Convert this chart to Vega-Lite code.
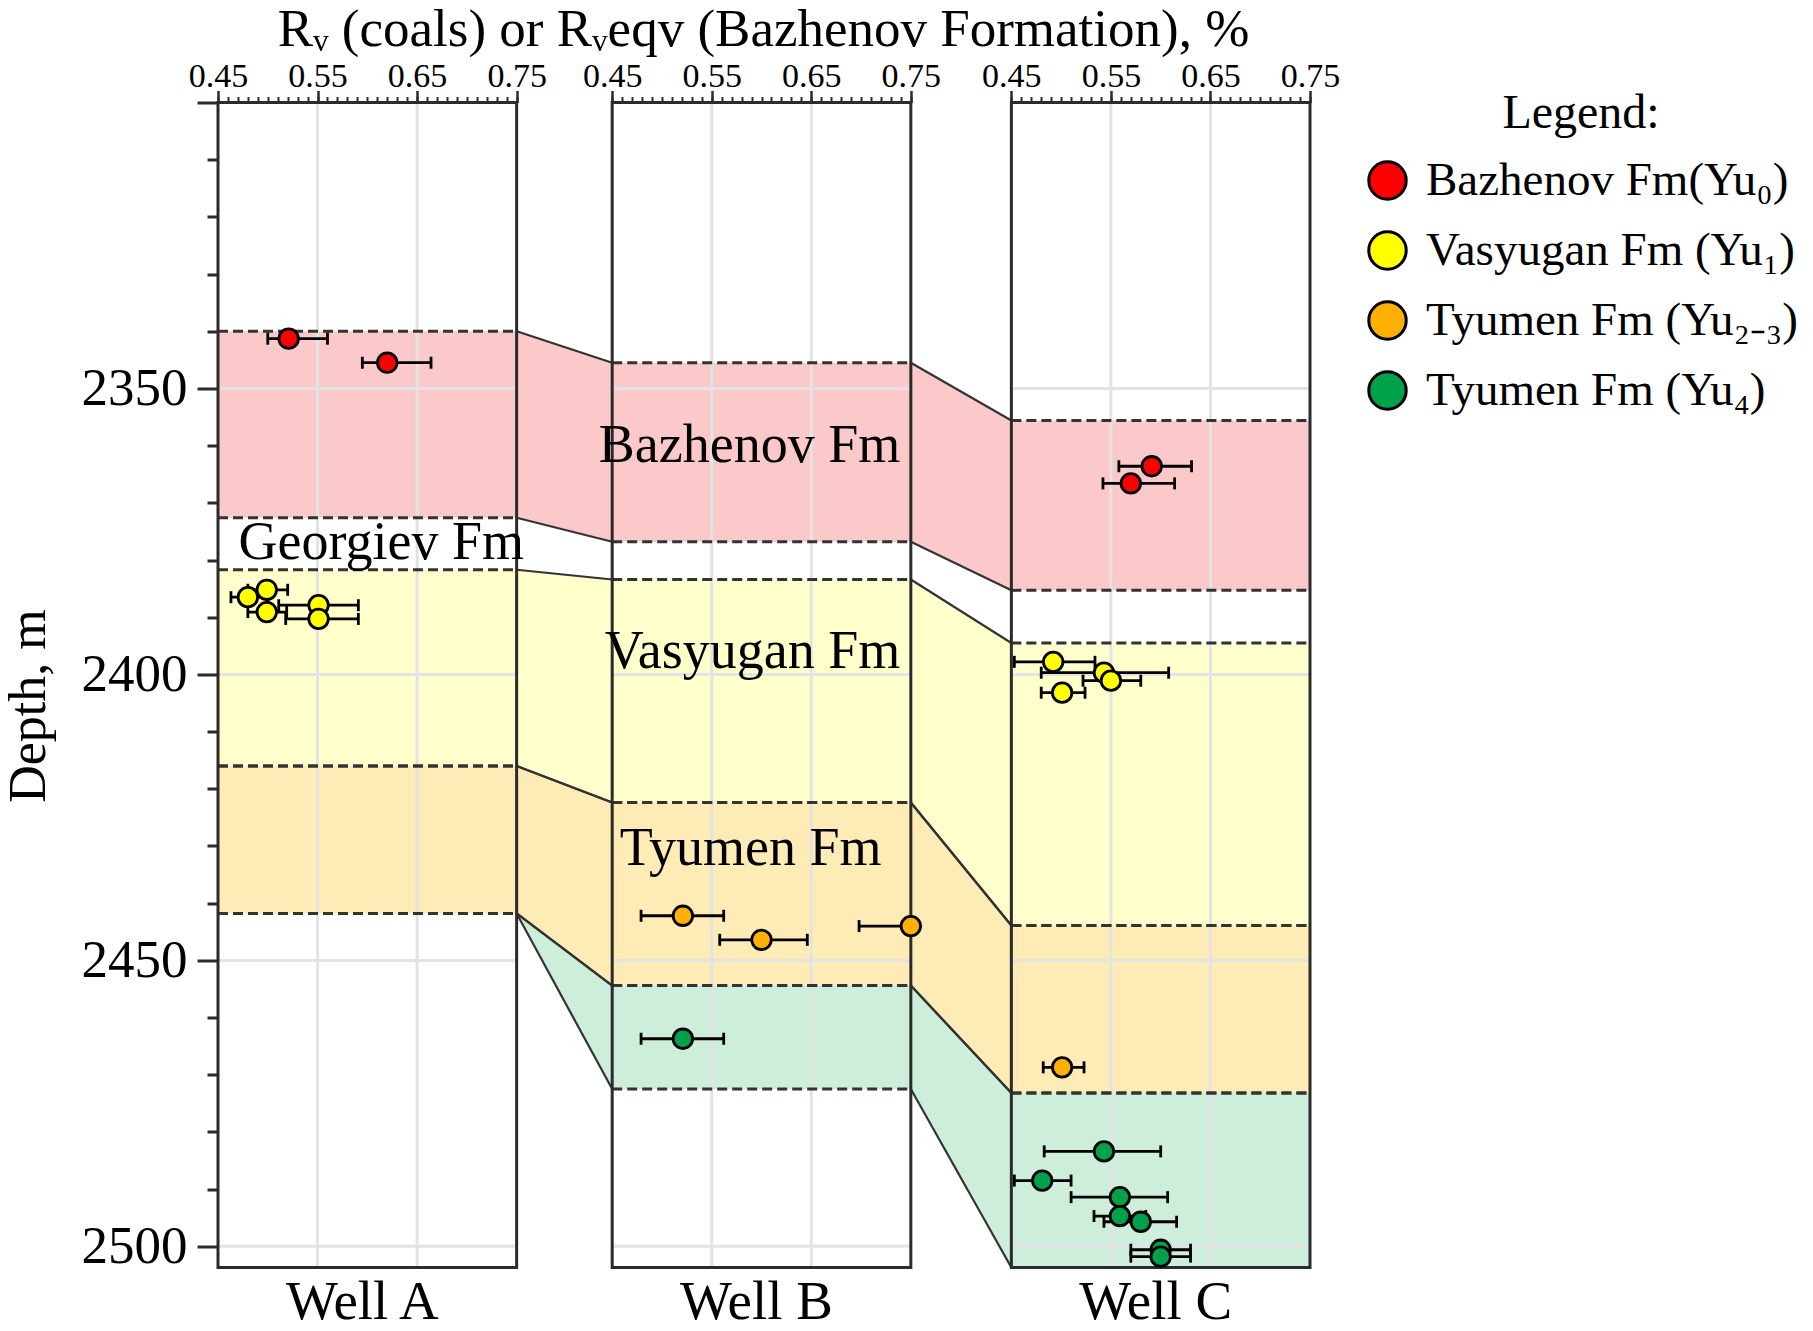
{
  "$schema": "https://vega.github.io/schema/vega-lite/v6.json",
  "width": 1092,
  "height": 1165,
  "autosize": {"type": "none"},
  "padding": {"left": 218, "top": 102.5, "right": 503, "bottom": 63.5},
  "background": "white",
  "config": {"view": {"stroke": null}, "font": "Liberation Serif"},
  "resolve": {"axis": {"x": "independent", "y": "independent"}},
  "datasets": {
    "wells": [
      {"well": "A", "name": "Well A"},
      {"well": "B", "name": "Well B"},
      {"well": "C", "name": "Well C"}
    ],
    "zones": [
      {"well": "A", "zone": "Bazhenov", "top": 2340.0, "bottom": 2372.6},
      {"well": "A", "zone": "Vasyugan", "top": 2381.7, "bottom": 2416.0},
      {"well": "A", "zone": "Tyumen 2-3", "top": 2416.0, "bottom": 2441.8},
      {"well": "B", "zone": "Bazhenov", "top": 2345.5, "bottom": 2376.8},
      {"well": "B", "zone": "Vasyugan", "top": 2383.4, "bottom": 2422.4},
      {"well": "B", "zone": "Tyumen 2-3", "top": 2422.4, "bottom": 2454.4},
      {"well": "B", "zone": "Tyumen 4", "top": 2454.4, "bottom": 2472.5},
      {"well": "C", "zone": "Bazhenov", "top": 2355.6, "bottom": 2385.3},
      {"well": "C", "zone": "Vasyugan", "top": 2394.5, "bottom": 2443.9},
      {"well": "C", "zone": "Tyumen 2-3", "top": 2443.9, "bottom": 2473.2},
      {"well": "C", "zone": "Tyumen 4", "top": 2473.2, "bottom": 2503.7}
    ],
    "links": [
      {"link": "AB-0", "zone": "Bazhenov", "well": "A", "side": "R", "top": 2340.0, "bottom": 2372.6},
      {"link": "AB-0", "zone": "Bazhenov", "well": "B", "side": "L", "top": 2345.5, "bottom": 2376.8},
      {"link": "AB-1", "zone": "Vasyugan", "well": "A", "side": "R", "top": 2381.7, "bottom": 2416.0},
      {"link": "AB-1", "zone": "Vasyugan", "well": "B", "side": "L", "top": 2383.4, "bottom": 2422.4},
      {"link": "AB-23", "zone": "Tyumen 2-3", "well": "A", "side": "R", "top": 2416.0, "bottom": 2441.8},
      {"link": "AB-23", "zone": "Tyumen 2-3", "well": "B", "side": "L", "top": 2422.4, "bottom": 2454.4},
      {"link": "AB-4", "zone": "Tyumen 4", "well": "A", "side": "R", "top": 2441.8, "bottom": 2441.8},
      {"link": "AB-4", "zone": "Tyumen 4", "well": "B", "side": "L", "top": 2454.4, "bottom": 2472.5},
      {"link": "BC-0", "zone": "Bazhenov", "well": "B", "side": "R", "top": 2345.5, "bottom": 2376.8},
      {"link": "BC-0", "zone": "Bazhenov", "well": "C", "side": "L", "top": 2355.6, "bottom": 2385.3},
      {"link": "BC-1", "zone": "Vasyugan", "well": "B", "side": "R", "top": 2383.4, "bottom": 2422.4},
      {"link": "BC-1", "zone": "Vasyugan", "well": "C", "side": "L", "top": 2394.5, "bottom": 2443.9},
      {"link": "BC-23", "zone": "Tyumen 2-3", "well": "B", "side": "R", "top": 2422.4, "bottom": 2454.4},
      {"link": "BC-23", "zone": "Tyumen 2-3", "well": "C", "side": "L", "top": 2443.9, "bottom": 2473.2},
      {"link": "BC-4", "zone": "Tyumen 4", "well": "B", "side": "R", "top": 2454.4, "bottom": 2472.5},
      {"link": "BC-4", "zone": "Tyumen 4", "well": "C", "side": "L", "top": 2473.2, "bottom": 2503.7}
    ],
    "points": [
      {"well": "A", "unit": "Bazhenov Fm(Yu₀)", "depth": 2341.3, "rv": 0.521, "lo": 0.500, "hi": 0.560},
      {"well": "A", "unit": "Bazhenov Fm(Yu₀)", "depth": 2345.5, "rv": 0.620, "lo": 0.595, "hi": 0.664},
      {"well": "A", "unit": "Vasyugan Fm (Yu₁)", "depth": 2385.2, "rv": 0.499, "lo": 0.480, "hi": 0.520},
      {"well": "A", "unit": "Vasyugan Fm (Yu₁)", "depth": 2386.5, "rv": 0.480, "lo": 0.463, "hi": 0.500},
      {"well": "A", "unit": "Vasyugan Fm (Yu₁)", "depth": 2387.9, "rv": 0.551, "lo": 0.511, "hi": 0.591},
      {"well": "A", "unit": "Vasyugan Fm (Yu₁)", "depth": 2389.1, "rv": 0.499, "lo": 0.480, "hi": 0.519},
      {"well": "A", "unit": "Vasyugan Fm (Yu₁)", "depth": 2390.3, "rv": 0.551, "lo": 0.518, "hi": 0.591},
      {"well": "B", "unit": "Tyumen Fm (Yu₂₋₃)", "depth": 2442.2, "rv": 0.521, "lo": 0.479, "hi": 0.562},
      {"well": "B", "unit": "Tyumen Fm (Yu₂₋₃)", "depth": 2446.4, "rv": 0.600, "lo": 0.558, "hi": 0.646},
      {"well": "B", "unit": "Tyumen Fm (Yu₂₋₃)", "depth": 2444.0, "rv": 0.750, "lo": 0.698, "hi": 0.750},
      {"well": "B", "unit": "Tyumen Fm (Yu₄)", "depth": 2463.7, "rv": 0.521, "lo": 0.479, "hi": 0.562},
      {"well": "C", "unit": "Bazhenov Fm(Yu₀)", "depth": 2363.6, "rv": 0.591, "lo": 0.558, "hi": 0.631},
      {"well": "C", "unit": "Bazhenov Fm(Yu₀)", "depth": 2366.6, "rv": 0.570, "lo": 0.542, "hi": 0.614},
      {"well": "C", "unit": "Vasyugan Fm (Yu₁)", "depth": 2397.8, "rv": 0.492, "lo": 0.453, "hi": 0.534},
      {"well": "C", "unit": "Vasyugan Fm (Yu₁)", "depth": 2399.7, "rv": 0.543, "lo": 0.480, "hi": 0.608},
      {"well": "C", "unit": "Vasyugan Fm (Yu₁)", "depth": 2401.1, "rv": 0.550, "lo": 0.522, "hi": 0.580},
      {"well": "C", "unit": "Vasyugan Fm (Yu₁)", "depth": 2403.2, "rv": 0.501, "lo": 0.480, "hi": 0.524},
      {"well": "C", "unit": "Tyumen Fm (Yu₂₋₃)", "depth": 2468.7, "rv": 0.501, "lo": 0.482, "hi": 0.523},
      {"well": "C", "unit": "Tyumen Fm (Yu₄)", "depth": 2483.4, "rv": 0.543, "lo": 0.483, "hi": 0.600},
      {"well": "C", "unit": "Tyumen Fm (Yu₄)", "depth": 2488.5, "rv": 0.481, "lo": 0.453, "hi": 0.510},
      {"well": "C", "unit": "Tyumen Fm (Yu₄)", "depth": 2491.4, "rv": 0.559, "lo": 0.510, "hi": 0.607},
      {"well": "C", "unit": "Tyumen Fm (Yu₄)", "depth": 2494.7, "rv": 0.559, "lo": 0.533, "hi": 0.585},
      {"well": "C", "unit": "Tyumen Fm (Yu₄)", "depth": 2495.7, "rv": 0.580, "lo": 0.543, "hi": 0.616},
      {"well": "C", "unit": "Tyumen Fm (Yu₄)", "depth": 2500.6, "rv": 0.600, "lo": 0.570, "hi": 0.630},
      {"well": "C", "unit": "Tyumen Fm (Yu₄)", "depth": 2501.8, "rv": 0.600, "lo": 0.570, "hi": 0.630}
    ],
    "labels": [
      {"label": "Georgiev Fm", "well": "A", "rv": 0.614, "depth": 2379.8},
      {"label": "Bazhenov Fm", "well": "B", "rv": 0.588, "depth": 2362.9},
      {"label": "Vasyugan Fm", "well": "B", "rv": 0.591, "depth": 2398.9},
      {"label": "Tyumen Fm", "well": "B", "rv": 0.589, "depth": 2433.3}
    ]
  },
  "layer": [
    {
      "data": {"name": "zones"},
      "transform": [
        {"calculate": "0.45 + (datum.well === 'A' ? 0 : (datum.well === 'B' ? 0.396 : 0.797))", "as": "x1"},
        {"calculate": "0.75 + (datum.well === 'A' ? 0 : (datum.well === 'B' ? 0.396 : 0.797))", "as": "x2"}
      ],
      "mark": {"type": "rect"},
      "encoding": {
        "x": {
          "field": "x1", "type": "quantitative",
          "scale": {"domain": [0.45, 1.547], "nice": false, "zero": false},
          "axis": {
            "orient": "top",
            "values": [0.45, 0.55, 0.65, 0.75, 0.846, 0.946, 1.046, 1.146, 1.247, 1.347, 1.447, 1.547],
            "labelExpr": "format(datum.value - (datum.value > 1.2 ? 0.797 : (datum.value > 0.8 ? 0.396 : 0)), '.2f')",
            "tickSize": 12,
            "tickWidth": 2.5,
            "tickColor": "#2b2b2b",
            "domain": false,
            "grid": false,
            "labelFont": "Liberation Serif",
            "labelFontSize": 34,
            "labelColor": "black",
            "labelPadding": -3,
            "labelOverlap": false,
            "labelBound": false,
            "labelFlush": false,
            "title": "Rᵥ (coals) or Rᵥeqv (Bazhenov Formation), %",
            "titleFont": "Liberation Serif",
            "titleFontSize": 53,
            "titleFontWeight": "normal",
            "titleColor": "black",
            "titleX": 545,
            "titleY": -57,
            "titleAlign": "center",
            "titleBaseline": "alphabetic"
          }
        },
        "x2": {"field": "x2"},
        "y": {
          "field": "top", "type": "quantitative",
          "scale": {"domain": [2300, 2503.7], "reverse": true, "nice": false, "zero": false},
          "axis": {
            "orient": "left",
            "values": [2300, 2350, 2400, 2450, 2500],
            "labelExpr": "datum.value > 2300 ? ('' + datum.value) : ''",
            "tickSize": 21,
            "tickWidth": 3,
            "tickColor": "#2b2b2b",
            "domain": false,
            "grid": false,
            "labelFont": "Liberation Serif",
            "labelFontSize": 53,
            "labelColor": "black",
            "labelPadding": 10,
            "labelOverlap": false,
            "labelBound": false,
            "labelFlush": false,
            "title": "Depth, m",
            "titleFont": "Liberation Serif",
            "titleFontSize": 52,
            "titleFontWeight": "normal",
            "titleColor": "black",
            "titleAngle": 270,
            "titleX": -174,
            "titleY": 603,
            "titleAlign": "center",
            "titleBaseline": "alphabetic"
          }
        },
        "y2": {"field": "bottom"},
        "fill": {
          "field": "zone", "type": "nominal",
          "scale": {"domain": ["Bazhenov", "Vasyugan", "Tyumen 2-3", "Tyumen 4"], "range": ["#fbc9c9", "#ffffcc", "#feebb5", "#cdeedb"]},
          "legend": null
        }
      }
    },
    {
      "data": {"name": "links"},
      "transform": [
        {"calculate": "(datum.side === 'L' ? 0.45 : 0.75) + (datum.well === 'A' ? 0 : (datum.well === 'B' ? 0.396 : 0.797))", "as": "xp"}
      ],
      "mark": {"type": "area", "orient": "vertical", "opacity": 1},
      "encoding": {
        "x": {"field": "xp", "type": "quantitative", "axis": null},
        "y": {"field": "top", "type": "quantitative", "axis": null, "stack": null},
        "y2": {"field": "bottom"},
        "fill": {"field": "zone", "type": "nominal", "legend": null},
        "detail": {"field": "link"}
      }
    },
    {
      "data": {"name": "wells"},
      "transform": [
        {"calculate": "0.55 + (datum.well === 'A' ? 0 : (datum.well === 'B' ? 0.396 : 0.797))", "as": "g1"},
        {"calculate": "0.65 + (datum.well === 'A' ? 0 : (datum.well === 'B' ? 0.396 : 0.797))", "as": "g2"},
        {"fold": ["g1", "g2"], "as": ["gk", "gx"]}
      ],
      "mark": {"type": "rule", "color": "#e3e3e3", "strokeWidth": 3},
      "encoding": {
        "x": {"field": "gx", "type": "quantitative", "axis": null},
        "y": {"datum": 2300, "type": "quantitative", "axis": null},
        "y2": {"datum": 2503.7}
      }
    },
    {
      "data": {"name": "wells"},
      "transform": [
        {"calculate": "0.45 + (datum.well === 'A' ? 0 : (datum.well === 'B' ? 0.396 : 0.797))", "as": "x1"},
        {"calculate": "0.75 + (datum.well === 'A' ? 0 : (datum.well === 'B' ? 0.396 : 0.797))", "as": "x2"}
      ],
      "layer": [
        {"mark": {"type": "rule", "color": "#e3e3e3", "strokeWidth": 3},
         "encoding": {"x": {"field": "x1", "type": "quantitative", "axis": null}, "x2": {"field": "x2"}, "y": {"datum": 2350, "type": "quantitative", "axis": null}}},
        {"mark": {"type": "rule", "color": "#e3e3e3", "strokeWidth": 3},
         "encoding": {"x": {"field": "x1", "type": "quantitative", "axis": null}, "x2": {"field": "x2"}, "y": {"datum": 2400, "type": "quantitative", "axis": null}}},
        {"mark": {"type": "rule", "color": "#e3e3e3", "strokeWidth": 3},
         "encoding": {"x": {"field": "x1", "type": "quantitative", "axis": null}, "x2": {"field": "x2"}, "y": {"datum": 2450, "type": "quantitative", "axis": null}}},
        {"mark": {"type": "rule", "color": "#e3e3e3", "strokeWidth": 3},
         "encoding": {"x": {"field": "x1", "type": "quantitative", "axis": null}, "x2": {"field": "x2"}, "y": {"datum": 2500, "type": "quantitative", "axis": null}}}
      ]
    },
    {
      "data": {"name": "zones"},
      "transform": [
        {"calculate": "0.45 + (datum.well === 'A' ? 0 : (datum.well === 'B' ? 0.396 : 0.797))", "as": "x1"},
        {"calculate": "0.75 + (datum.well === 'A' ? 0 : (datum.well === 'B' ? 0.396 : 0.797))", "as": "x2"},
        {"fold": ["top", "bottom"], "as": ["edge", "depth"]}
      ],
      "mark": {"type": "rule", "color": "#333333", "strokeWidth": 3, "strokeDash": [10, 5]},
      "encoding": {
        "x": {
          "field": "x1", "type": "quantitative",
          "axis": {
            "orient": "top",
            "values": [0.45,0.46,0.47,0.48,0.49,0.5,0.51,0.52,0.53,0.54,0.55,0.56,0.57,0.58,0.59,0.6,0.61,0.62,0.63,0.64,0.65,0.66,0.67,0.68,0.69,0.7,0.71,0.72,0.73,0.74,0.75,
                       0.846,0.856,0.866,0.876,0.886,0.896,0.906,0.916,0.926,0.936,0.946,0.956,0.966,0.976,0.986,0.996,1.006,1.016,1.026,1.036,1.046,1.056,1.066,1.076,1.086,1.096,1.106,1.116,1.126,1.136,1.146,
                       1.247,1.257,1.267,1.277,1.287,1.297,1.307,1.317,1.327,1.337,1.347,1.357,1.367,1.377,1.387,1.397,1.407,1.417,1.427,1.437,1.447,1.457,1.467,1.477,1.487,1.497,1.507,1.517,1.527,1.537,1.547],
            "tickSize": 6,
            "tickWidth": 2,
            "tickColor": "#2b2b2b",
            "labels": false,
            "domain": false,
            "grid": false,
            "title": null
          }
        },
        "x2": {"field": "x2"},
        "y": {
          "field": "depth", "type": "quantitative",
          "axis": {
            "orient": "left",
            "values": [2310, 2320, 2330, 2340, 2360, 2370, 2380, 2390, 2410, 2420, 2430, 2440, 2460, 2470, 2480, 2490],
            "tickSize": 11,
            "tickWidth": 3,
            "tickColor": "#2b2b2b",
            "labels": false,
            "domain": false,
            "grid": false,
            "title": null
          }
        }
      }
    },
    {
      "data": {"name": "links"},
      "transform": [
        {"calculate": "(datum.side === 'L' ? 0.45 : 0.75) + (datum.well === 'A' ? 0 : (datum.well === 'B' ? 0.396 : 0.797))", "as": "xp"}
      ],
      "layer": [
        {"mark": {"type": "line", "color": "#333333", "strokeWidth": 2.2},
         "encoding": {"x": {"field": "xp", "type": "quantitative", "axis": null}, "y": {"field": "top", "type": "quantitative", "axis": null}, "detail": {"field": "link"}}},
        {"mark": {"type": "line", "color": "#333333", "strokeWidth": 2.2},
         "encoding": {"x": {"field": "xp", "type": "quantitative", "axis": null}, "y": {"field": "bottom", "type": "quantitative", "axis": null}, "detail": {"field": "link"}}}
      ]
    },
    {
      "data": {"name": "wells"},
      "transform": [
        {"calculate": "0.45 + (datum.well === 'A' ? 0 : (datum.well === 'B' ? 0.396 : 0.797))", "as": "x1"},
        {"calculate": "0.75 + (datum.well === 'A' ? 0 : (datum.well === 'B' ? 0.396 : 0.797))", "as": "x2"}
      ],
      "mark": {"type": "rect", "fillOpacity": 0, "stroke": "#2b2b2b", "strokeWidth": 3},
      "encoding": {
        "x": {"field": "x1", "type": "quantitative", "axis": null},
        "x2": {"field": "x2"},
        "y": {"datum": 2300, "type": "quantitative", "axis": null},
        "y2": {"datum": 2503.7}
      }
    },
    {
      "data": {"name": "points"},
      "transform": [
        {"calculate": "datum.lo + (datum.well === 'A' ? 0 : (datum.well === 'B' ? 0.396 : 0.797))", "as": "xl"},
        {"calculate": "datum.hi + (datum.well === 'A' ? 0 : (datum.well === 'B' ? 0.396 : 0.797))", "as": "xh"}
      ],
      "layer": [
        {"mark": {"type": "rule", "color": "black", "strokeWidth": 2.8},
         "encoding": {"x": {"field": "xl", "type": "quantitative", "axis": null}, "x2": {"field": "xh"}, "y": {"field": "depth", "type": "quantitative", "axis": null}}},
        {"mark": {"type": "rule", "color": "black", "strokeWidth": 2.8, "yOffset": -6, "y2Offset": 6},
         "encoding": {"x": {"field": "xl", "type": "quantitative", "axis": null}, "y": {"field": "depth", "type": "quantitative", "axis": null}, "y2": {"field": "depth"}}},
        {"mark": {"type": "rule", "color": "black", "strokeWidth": 2.8, "yOffset": -6, "y2Offset": 6},
         "encoding": {"x": {"field": "xh", "type": "quantitative", "axis": null}, "y": {"field": "depth", "type": "quantitative", "axis": null}, "y2": {"field": "depth"}}}
      ]
    },
    {
      "data": {"name": "points"},
      "transform": [
        {"calculate": "datum.rv + (datum.well === 'A' ? 0 : (datum.well === 'B' ? 0.396 : 0.797))", "as": "xv"}
      ],
      "mark": {"type": "point", "shape": "circle", "filled": true, "size": 380, "stroke": "black", "strokeWidth": 2.8, "opacity": 1},
      "encoding": {
        "x": {"field": "xv", "type": "quantitative", "axis": null},
        "y": {"field": "depth", "type": "quantitative", "axis": null},
        "color": {
          "field": "unit", "type": "nominal",
          "scale": {"domain": ["Bazhenov Fm(Yu₀)", "Vasyugan Fm (Yu₁)", "Tyumen Fm (Yu₂₋₃)", "Tyumen Fm (Yu₄)"], "range": ["#ff0000", "#ffff00", "#ffb000", "#00a14b"]},
          "legend": {
            "title": "Legend:",
            "orient": "none",
            "legendX": 1146,
            "legendY": -12.5,
            "titleFont": "Liberation Serif",
            "titleFontSize": 48,
            "titleFontWeight": "normal",
            "titleColor": "black",
            "titleAnchor": "middle",
            "titlePadding": 19,
            "labelFont": "Liberation Serif",
            "labelFontSize": 47,
            "labelColor": "black",
            "labelOffset": 15,
            "labelLimit": 800,
            "symbolType": "circle",
            "symbolSize": 1400,
            "symbolStrokeColor": "black",
            "symbolStrokeWidth": 3,
            "symbolOpacity": 1,
            "rowPadding": 19
          }
        }
      }
    },
    {
      "data": {"name": "labels"},
      "transform": [
        {"calculate": "datum.rv + (datum.well === 'A' ? 0 : (datum.well === 'B' ? 0.396 : 0.797))", "as": "xv"}
      ],
      "mark": {"type": "text", "font": "Liberation Serif", "fontSize": 54, "color": "black", "align": "center", "baseline": "alphabetic"},
      "encoding": {
        "x": {"field": "xv", "type": "quantitative", "axis": null},
        "y": {"field": "depth", "type": "quantitative", "axis": null},
        "text": {"field": "label"}
      }
    },
    {
      "data": {"name": "wells"},
      "transform": [
        {"calculate": "0.595 + (datum.well === 'A' ? 0 : (datum.well === 'B' ? 0.396 : 0.797))", "as": "xc"}
      ],
      "mark": {"type": "text", "font": "Liberation Serif", "fontSize": 55, "color": "black", "align": "center", "baseline": "alphabetic", "dy": 51},
      "encoding": {
        "x": {"field": "xc", "type": "quantitative", "axis": null},
        "y": {"datum": 2503.7, "type": "quantitative", "axis": null},
        "text": {"field": "name"}
      }
    }
  ]
}
